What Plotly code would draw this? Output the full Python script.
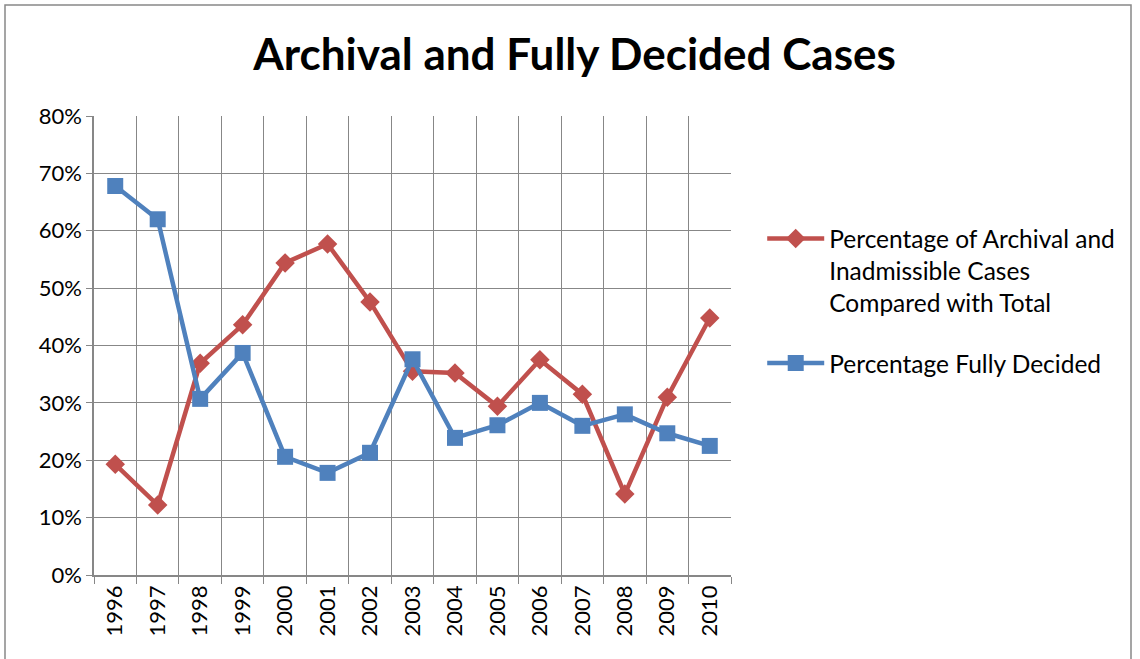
import plotly.graph_objects as go

years = ['1996', '1997', '1998', '1999', '2000', '2001', '2002', '2003',
         '2004', '2005', '2006', '2007', '2008', '2009', '2010']
# share of archival + inadmissible cases vs total
archival_pct = [0.193, 0.122, 0.369, 0.436, 0.544, 0.577, 0.476, 0.355,
                0.352, 0.294, 0.375, 0.315, 0.141, 0.310, 0.448]
# share fully decided
decided_pct = [0.678, 0.620, 0.307, 0.387, 0.206, 0.178, 0.213, 0.376,
               0.239, 0.261, 0.300, 0.260, 0.280, 0.247, 0.225]

red = '#C0504D'
blue = '#4F81BD'
grid = '#878787'
font = 'Lato, Calibri, sans-serif'

fig = go.Figure()
fig.add_trace(go.Scatter(
    x=years, y=archival_pct, mode='lines+markers',
    name='Percentage of Archival and<br>Inadmissible Cases<br>Compared with Total',
    legendgroup='a',
    line=dict(color=red, width=4.5),
    marker=dict(symbol='diamond', size=15, color=red),
))
fig.add_trace(go.Scatter(
    x=years, y=decided_pct, mode='lines+markers',
    name='Percentage Fully Decided',
    legendgroup='b',
    line=dict(color=blue, width=4.5),
    marker=dict(symbol='square', size=16, color=blue),
))

fig.update_layout(
    width=1140, height=659,
    margin=dict(l=94, r=409, t=116, b=84),
    paper_bgcolor='white', plot_bgcolor='white',
    font=dict(family=font, size=22, color='black'),
    title=dict(text='<b>Archival and Fully Decided Cases</b>',
               x=0.504, xanchor='center', y=0.9165, yanchor='middle',
               font=dict(size=44, family=font)),
    legend=dict(x=1.049, xanchor='left', y=0.782, yanchor='top',
                valign='top', tracegroupgap=26, itemwidth=57,
                font=dict(size=24.5, family=font)),
    xaxis=dict(type='category', range=[-0.5, 14.5], tickson='boundaries',
               showgrid=True, gridcolor=grid, gridwidth=1.3, ticks='outside',
               ticklen=7, tickcolor=grid, tickangle=-90, showline=True,
               linecolor=grid, linewidth=1.5,
               tickfont=dict(size=22, family=font)),
    yaxis=dict(range=[0, 0.8], dtick=0.1, tickformat='.0%',
               showgrid=True, gridcolor=grid, gridwidth=1.3,
               ticks='outside', ticklen=6, tickcolor=grid,
               showline=True, linecolor=grid, linewidth=1.5,
               zeroline=False, tickfont=dict(size=22, family=font)),
    shapes=[dict(type='rect', xref='paper', yref='paper',
                 x0=(5 - 94) / 637, x1=(1131 - 94) / 637,
                 y0=-0.2, y1=(575 - 5) / 459,
                 line=dict(color='#888888', width=1.5), layer='below')],
)

fig.write_html("out.html", config={'displayModeBar': False},
               post_script="document.body.style.margin='0';")
